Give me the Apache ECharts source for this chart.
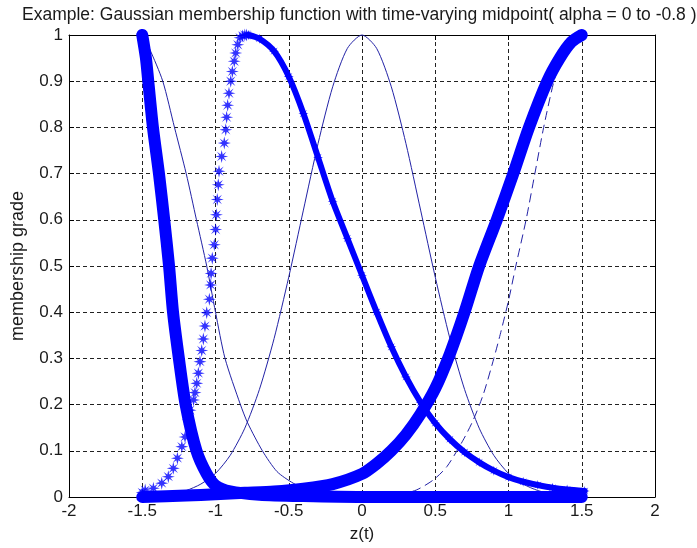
<!DOCTYPE html>
<html>
<head>
<meta charset="utf-8">
<script src="https://cdn.jsdelivr.net/npm/echarts@6/dist/echarts.min.js"></script>
<style>
html,body{margin:0;padding:0;background:#fff;}
#chart{width:697px;height:548px;}
</style>
</head>
<body>
<div id="chart"></div>
<script>
// ---- text ----
const titleText = 'Example: Gaussian membership function with time-varying midpoint( alpha = 0 to -0.8 )';
const xName = 'z(t)';
const yName = 'membership grade';
const xTicks = [-2, -1.5, -1, -0.5, 0, 0.5, 1, 1.5, 2];
const yTicks = [0, 0.1, 0.2, 0.3, 0.4, 0.5, 0.6, 0.7, 0.8, 0.9, 1];

// ---- thick falling curve (dense markers, left) ----
const fallX = [-1.5, -1.475, -1.459, -1.427, -1.386, -1.35, -1.317, -1.29, -1.25, -1.204, -1.13, -1.06, -1.0, -0.9, -0.7, -0.4, 0, 0.5, 1.0, 1.5];
const fallY = [1.0, 0.95, 0.9, 0.8, 0.7, 0.6, 0.5, 0.4, 0.3, 0.2, 0.1, 0.05, 0.025, 0.012, 0.005, 0.002, 0, 0, 0, 0];

// ---- thick rising curve (dense markers, right) ----
const riseX = [-1.5, -1.2, -1.0, -0.8, -0.6, -0.4, -0.2, 0.0, 0.1, 0.2, 0.3, 0.4, 0.5, 0.6, 0.7, 0.8, 0.92, 1.033, 1.14, 1.265, 1.35, 1.43, 1.5];
const riseY = [0.0, 0.003, 0.006, 0.009, 0.012, 0.018, 0.028, 0.05, 0.072, 0.1, 0.135, 0.18, 0.235, 0.31, 0.4, 0.5, 0.6, 0.7, 0.8, 0.9, 0.95, 0.985, 1.0];

// ---- asterisk curve: rising part (individual markers) ----
const starUpX = [-1.5, -1.48, -1.424, -1.367, -1.322, -1.288, -1.26, -1.23, -1.208, -1.186, -1.174, -1.15, -1.14, -1.128, -1.117, -1.106, -1.094, -1.083, -1.072, -1.06, -1.042, -1.033, -1.03, -1.022, -1.008, -0.999, -0.994, -0.988, -0.981, -0.976, -0.958, -0.94, -0.93, -0.924, -0.917, -0.908, -0.896, -0.885, -0.872, -0.862, -0.848, -0.833, -0.815, -0.8, -0.788];
const starUpY = [0.01, 0.015, 0.019, 0.03, 0.044, 0.062, 0.084, 0.109, 0.13, 0.167, 0.188, 0.21, 0.226, 0.246, 0.268, 0.293, 0.317, 0.342, 0.37, 0.399, 0.428, 0.459, 0.484, 0.517, 0.546, 0.579, 0.611, 0.644, 0.676, 0.705, 0.737, 0.766, 0.795, 0.822, 0.848, 0.874, 0.9, 0.921, 0.943, 0.961, 0.979, 0.994, 0.998, 1.0, 1.0];

// ---- asterisk curve: falling part (dense band) ----
const starDownX = [-0.776, -0.7, -0.6, -0.5, -0.4, -0.3, -0.2, -0.1, 0.0, 0.1, 0.2, 0.3, 0.4, 0.5, 0.6, 0.7, 0.8, 0.9, 1.0, 1.1, 1.2, 1.3, 1.4, 1.52];
const starDownY = [1.0, 0.992, 0.965, 0.91, 0.83, 0.735, 0.64, 0.56, 0.48, 0.4, 0.325, 0.26, 0.205, 0.16, 0.125, 0.097, 0.075, 0.057, 0.043, 0.033, 0.026, 0.02, 0.016, 0.013];

// ---- thin line falling from -1.5 ----
const thinLeftX = [-1.5, -1.45, -1.36, -1.28, -1.2, -1.13, -1.06, -1.0, -0.935, -0.83, -0.78, -0.68, -0.58, -0.47, -0.35, -0.2, 0, 1.5];
const thinLeftY = [1.0, 0.97, 0.9, 0.8, 0.7, 0.6, 0.5, 0.4, 0.3, 0.2, 0.16, 0.1, 0.055, 0.03, 0.012, 0.003, 0, 0];

// ---- thin line bell centred at 0 ----
const thinMidX = [-1.5, -1.3, -1.2, -1.1, -1.0, -0.9, -0.8, -0.7, -0.6, -0.5, -0.4, -0.3, -0.2, -0.1, 0, 0.1, 0.2, 0.3, 0.4, 0.5, 0.6, 0.7, 0.8, 0.9, 1.0, 1.1, 1.2, 1.3, 1.5];
const thinMidY = [0.001, 0.007, 0.014, 0.028, 0.051, 0.09, 0.149, 0.233, 0.343, 0.476, 0.621, 0.765, 0.888, 0.971, 1.0, 0.971, 0.888, 0.765, 0.621, 0.476, 0.343, 0.233, 0.149, 0.09, 0.051, 0.028, 0.014, 0.007, 0.001];

// ---- dashed line rising on the right ----
const dashX = [0.25, 0.37, 0.487, 0.58, 0.69, 0.76, 0.83, 0.9, 0.95, 1.0, 1.05, 1.12, 1.18, 1.24, 1.31, 1.37, 1.43, 1.5];
const dashY = [0.005, 0.015, 0.037, 0.066, 0.123, 0.167, 0.224, 0.3, 0.36, 0.425, 0.5, 0.6, 0.7, 0.8, 0.9, 0.96, 0.99, 1.0];

const zip = (xs, ys) => xs.map((x, i) => [x, ys[i]]);

const BLUE = '#0000ff';
const THIN = '#2222a6';
const TEXT = '#1a1a1a';
const FONT = 'Liberation Sans, Arial, sans-serif';
const STAR = 'path://M0,-5 L0.8,-1.6 L3.6,-3.6 L1.6,-0.8 L5,0 L1.6,0.8 L3.6,3.6 L0.8,1.6 L0,5 L-0.8,1.6 L-3.6,3.6 L-1.6,0.8 L-5,0 L-1.6,-0.8 L-3.6,-3.6 L-0.8,-1.6 Z';

const chart = echarts.init(document.getElementById('chart'), null, {renderer: 'canvas'});

const gridLine = {show: true, lineStyle: {color: '#222', width: 1, type: [4, 3]}};
const tick = {show: true, inside: true, length: 5, lineStyle: {color: '#000'}};
const axisLine = {show: true, onZero: false, lineStyle: {color: '#000', width: 1}};
const SM = 0.25;

const option = {
  animation: false,
  backgroundColor: '#fff',
  title: {
    text: titleText,
    left: 17,
    top: 1,
    textStyle: {fontFamily: FONT, fontSize: 17.5, fontWeight: 'normal', color: TEXT}
  },
  grid: {left: 69, right: 42, top: 35, bottom: 51, containLabel: false},
  xAxis: [{
    type: 'value', min: -2, max: 2, interval: 0.5,
    position: 'bottom',
    name: xName, nameLocation: 'middle', nameGap: 29,
    nameTextStyle: {fontFamily: FONT, fontSize: 17, color: TEXT},
    axisLine: axisLine, axisTick: tick, splitLine: gridLine,
    axisLabel: {fontFamily: FONT, fontSize: 17, color: TEXT, margin: 6,
      formatter: v => xTicks.includes(v) ? String(v) : ''}
  }, {
    type: 'value', min: -2, max: 2, interval: 0.5, position: 'top',
    axisLine: axisLine, axisTick: tick, axisLabel: {show: false}, splitLine: {show: false}
  }],
  yAxis: [{
    type: 'value', min: 0, max: 1, interval: 0.1,
    position: 'left',
    name: yName, nameLocation: 'middle', nameGap: 42, nameRotate: 90,
    nameTextStyle: {fontFamily: FONT, fontSize: 18, color: TEXT},
    axisLine: axisLine, axisTick: tick, splitLine: gridLine,
    axisLabel: {fontFamily: FONT, fontSize: 17, color: TEXT, margin: 6,
      formatter: v => { const t = yTicks.find(y => Math.abs(y - v) < 1e-9); return t === undefined ? '' : String(t); }}
  }, {
    type: 'value', min: 0, max: 1, interval: 0.1, position: 'right',
    axisLine: axisLine, axisTick: tick, axisLabel: {show: false}, splitLine: {show: false}
  }],
  series: [
    {type: 'line', data: zip(thinLeftX, thinLeftY), showSymbol: false, smooth: SM, clip: false,
      lineStyle: {color: THIN, width: 1}, z: 2},
    {type: 'line', data: zip(thinMidX, thinMidY), showSymbol: false, smooth: SM, clip: false,
      lineStyle: {color: THIN, width: 1}, z: 2},
    {type: 'line', data: zip(dashX, dashY), showSymbol: false, smooth: SM, clip: false,
      lineStyle: {color: THIN, width: 1, type: [9, 5]}, z: 2},
    {type: 'line', data: zip(fallX, fallY), showSymbol: false, smooth: SM, clip: false,
      lineStyle: {color: BLUE, width: 12, cap: 'round', join: 'round'}, z: 3},
    {type: 'line', data: zip(riseX, riseY), showSymbol: false, smooth: SM, clip: false,
      lineStyle: {color: BLUE, width: 12, cap: 'round', join: 'round'}, z: 3},
    {type: 'line', data: zip(starDownX, starDownY), smooth: SM, clip: false,
      showSymbol: true, symbol: STAR, symbolSize: 10, itemStyle: {color: BLUE},
      lineStyle: {color: BLUE, width: 6, cap: 'round', join: 'round'}, z: 4},
    {type: 'scatter', data: zip(starUpX, starUpY), symbol: STAR, symbolSize: 13, clip: false,
      itemStyle: {color: BLUE}, z: 4}
  ]
};
chart.setOption(option);
</script>
</body>
</html>
